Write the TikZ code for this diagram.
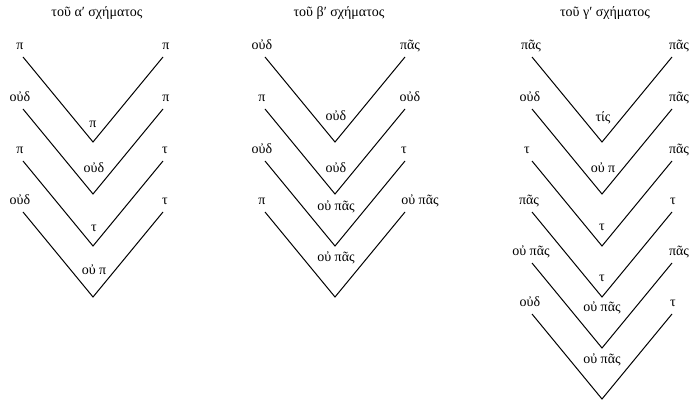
\documentclass[tikz,border=0pt]{standalone}
\usepackage{fontspec}
\setmainfont{Liberation Serif}
\usetikzlibrary{positioning}

\tikzset{
  lab/.style={anchor=base,inner sep=0pt},
  arm/.style={line join=miter},
}

\begin{document}
\begin{tikzpicture}[font=\fontsize{14bp}{16bp}\selectfont]
\pgfsetlinewidth{1bp}
\pgfsetcolor{black}
\useasboundingbox (0bp,0bp) rectangle (689bp,402bp);

% Scheme 1
\node[lab] (ta) at (97bp,385bp) {τοῦ αʹ σχήματος};

% Edge: a1l -> a1v -> a1r
\draw [arm] (23bp,345bp) coordinate (a1l) -- (93bp,260bp) coordinate (a1v) -- (163bp,345bp) coordinate (a1r);
\node[lab] (a1lt) at (20bp,352bp) {π};
\node[lab] (a1rt) at (166bp,352bp) {π};
\node[lab] (a1vt) at (93bp,274bp) {π};

% Edge: a2l -> a2v -> a2r
\draw [arm] (23bp,293bp) coordinate (a2l) -- (93bp,208bp) coordinate (a2v) -- (163bp,293bp) coordinate (a2r);
\node[lab] (a2lt) at (20bp,300bp) {οὐδ};
\node[lab] (a2rt) at (166bp,300bp) {π};
\node[lab] (a2vt) at (94bp,229bp) {οὐδ};

% Edge: a3l -> a3v -> a3r
\draw [arm] (23bp,241bp) coordinate (a3l) -- (93bp,156bp) coordinate (a3v) -- (163bp,241bp) coordinate (a3r);
\node[lab] (a3lt) at (20bp,248bp) {π};
\node[lab] (a3rt) at (165bp,248bp) {τ};
\node[lab] (a3vt) at (94bp,170bp) {τ};

% Edge: a4l -> a4v -> a4r
\draw [arm] (23bp,190bp) coordinate (a4l) -- (93bp,105bp) coordinate (a4v) -- (163bp,190bp) coordinate (a4r);
\node[lab] (a4lt) at (20bp,197bp) {οὐδ};
\node[lab] (a4rt) at (165bp,197bp) {τ};
\node[lab] (a4vt) at (94bp,127bp) {οὐ π};

% Scheme 2
\node[lab] (tb) at (339bp,385bp) {τοῦ βʹ σχήματος};

% Edge: b1l -> b1v -> b1r
\draw [arm] (265bp,345bp) coordinate (b1l) -- (335bp,260bp) coordinate (b1v) -- (405bp,345bp) coordinate (b1r);
\node[lab] (b1lt) at (262bp,352bp) {οὐδ};
\node[lab] (b1rt) at (410bp,352bp) {πᾶς};
\node[lab] (b1vt) at (336bp,281bp) {οὐδ};

% Edge: b2l -> b2v -> b2r
\draw [arm] (265bp,293bp) coordinate (b2l) -- (335bp,208bp) coordinate (b2v) -- (405bp,293bp) coordinate (b2r);
\node[lab] (b2lt) at (262bp,300bp) {π};
\node[lab] (b2rt) at (410bp,300bp) {οὐδ};
\node[lab] (b2vt) at (336bp,229bp) {οὐδ};

% Edge: b3l -> b3v -> b3r
\draw [arm] (265bp,241bp) coordinate (b3l) -- (335bp,156bp) coordinate (b3v) -- (405bp,241bp) coordinate (b3r);
\node[lab] (b3lt) at (262bp,248bp) {οὐδ};
\node[lab] (b3rt) at (404bp,248bp) {τ};
\node[lab] (b3vt) at (336bp,191bp) {οὐ πᾶς};

% Edge: b4l -> b4v -> b4r
\draw [arm] (265bp,190bp) coordinate (b4l) -- (335bp,105bp) coordinate (b4v) -- (405bp,190bp) coordinate (b4r);
\node[lab] (b4lt) at (262bp,197bp) {π};
\node[lab] (b4rt) at (420bp,197bp) {οὐ πᾶς};
\node[lab] (b4vt) at (336bp,140bp) {οὐ πᾶς};

% Scheme 3
\node[lab] (tc) at (605bp,385bp) {τοῦ γʹ σχήματος};

% Edge: c1l -> c1v -> c1r
\draw [arm] (532bp,345bp) coordinate (c1l) -- (602bp,260bp) coordinate (c1v) -- (672bp,345bp) coordinate (c1r);
\node[lab] (c1lt) at (531bp,352bp) {πᾶς};
\node[lab] (c1rt) at (679bp,352bp) {πᾶς};
\node[lab] (c1vt) at (603bp,280bp) {τίς};

% Edge: c2l -> c2v -> c2r
\draw [arm] (532bp,293bp) coordinate (c2l) -- (602bp,208bp) coordinate (c2v) -- (672bp,293bp) coordinate (c2r);
\node[lab] (c2lt) at (530bp,300bp) {οὐδ};
\node[lab] (c2rt) at (679bp,300bp) {πᾶς};
\node[lab] (c2vt) at (603bp,229bp) {οὐ π};

% Edge: c3l -> c3v -> c3r
\draw [arm] (532bp,241bp) coordinate (c3l) -- (602bp,156bp) coordinate (c3v) -- (672bp,241bp) coordinate (c3r);
\node[lab] (c3lt) at (527bp,248bp) {τ};
\node[lab] (c3rt) at (679bp,248bp) {πᾶς};
\node[lab] (c3vt) at (602bp,171bp) {τ};

% Edge: c4l -> c4v -> c4r
\draw [arm] (532bp,190bp) coordinate (c4l) -- (602bp,105bp) coordinate (c4v) -- (672bp,190bp) coordinate (c4r);
\node[lab] (c4lt) at (529bp,197bp) {πᾶς};
\node[lab] (c4rt) at (673bp,197bp) {τ};
\node[lab] (c4vt) at (602bp,120bp) {τ};

% Edge: c5l -> c5v -> c5r
\draw [arm] (532bp,139bp) coordinate (c5l) -- (602bp,54bp) coordinate (c5v) -- (672bp,139bp) coordinate (c5r);
\node[lab] (c5lt) at (531bp,146bp) {οὐ πᾶς};
\node[lab] (c5rt) at (679bp,146bp) {πᾶς};
\node[lab] (c5vt) at (602bp,90bp) {οὐ πᾶς};

% Edge: c6l -> c6v -> c6r
\draw [arm] (532bp,88bp) coordinate (c6l) -- (602bp,3bp) coordinate (c6v) -- (672bp,88bp) coordinate (c6r);
\node[lab] (c6lt) at (530bp,95bp) {οὐδ};
\node[lab] (c6rt) at (673bp,95bp) {τ};
\node[lab] (c6vt) at (602bp,39bp) {οὐ πᾶς};
%
\end{tikzpicture}
\end{document}
